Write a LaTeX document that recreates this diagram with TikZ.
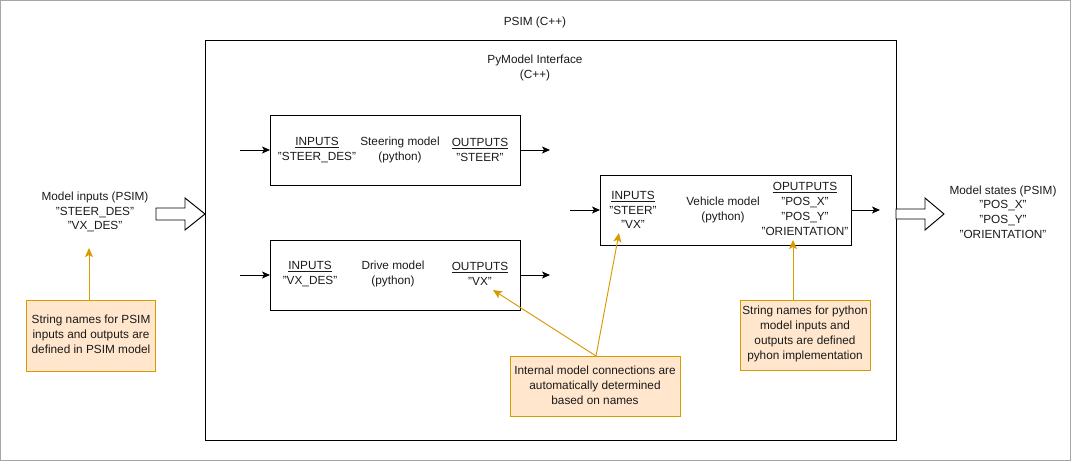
\documentclass[tikz,border=0pt]{standalone}
\usepackage{fontspec}
\setmainfont{Liberation Sans}
\usetikzlibrary{arrows.meta}
\definecolor{notefill}{HTML}{FFE6CC}
\definecolor{notedraw}{HTML}{D79B00}
\definecolor{txt}{HTML}{1A1A1A}
\newcommand{\qt}[1]{\symbol{34}#1\symbol{34}}
\begin{document}
\begin{tikzpicture}[x=1pt,y=-1pt,
  every node/.style={font=\fontsize{11.8}{14.8}\selectfont, text=txt, inner sep=0pt},
  box/.style={draw=black, line width=0.95pt, anchor=north west},
  lbl/.style={align=center},
  note/.style={draw=notedraw, fill=notefill, line width=0.95pt, anchor=north west, align=center},
  sig/.style={draw=black, line width=0.95pt, -{Stealth[length=8pt,width=7pt,inset=2pt]}},
  notearrow/.style={draw=notedraw, line width=0.95pt, -{Stealth[length=9pt,width=8pt,inset=2pt]}},
  blockarrow/.style={draw=black, fill=white, line width=0.95pt}]
\useasboundingbox (0,0) rectangle (1071,461);
\draw[gray!70, line width=0.8pt] (0.5,0.5) rectangle (1070.5,460.5);

\node (psim) at (535,22) {PSIM (C++)};
\node[box, minimum width=691pt, minimum height=400pt] (iface) at (205,40) {};
\node[lbl] (ifacelbl) at (535,68) {PyModel Interface\\(C++)};

% Steering model
\node[box, minimum width=250pt, minimum height=70pt] (steer) at (270,115) {};
\node[lbl] (steerin) at (317,150) {\underline{INPUTS}\\\qt{STEER\_DES}};
\node[lbl] (steername) at (400,150) {Steering model\\(python)};
\node[lbl] (steerout) at (480,150) {\underline{OUTPUTS}\\\qt{STEER}};
\coordinate (steerinS) at (240,150);
\coordinate (steeroutE) at (550,150);
\draw[sig] (steerinS) -- (steerinS -| steer.west);
\draw[sig] (steerinS -| steer.east) -- (steeroutE);

% Drive model
\node[box, minimum width=250pt, minimum height=70pt] (drive) at (270,240) {};
\node[lbl] (drivein) at (310,274) {\underline{INPUTS}\\\qt{VX\_DES}};
\node[lbl] (drivename) at (393,274) {Drive model\\(python)};
\node[lbl] (driveout) at (480,274) {\underline{OUTPUTS}\\\qt{VX}};
\coordinate (driveinS) at (240,275);
\coordinate (driveoutE) at (550,275);
\draw[sig] (driveinS) -- (driveinS -| drive.west);
\draw[sig] (driveinS -| drive.east) -- (driveoutE);

% Vehicle model
\node[box, minimum width=251pt, minimum height=70pt] (veh) at (600,175) {};
\node[lbl] (vehin) at (633,210) {\underline{INPUTS}\\\qt{STEER}\\\qt{VX}};
\node[lbl] (vehname) at (723,210) {Vehicle model\\(python)};
\node[lbl] (vehout) at (805,209) {\underline{OPUTPUTS}\\\qt{POS\_X}\\\qt{POS\_Y}\\\qt{ORIENTATION}};
\coordinate (vehinS) at (570,210);
\coordinate (vehoutE) at (880,210);
\draw[sig] (vehinS) -- (vehinS -| veh.west);
\draw[sig] (vehinS -| veh.east) -- (vehoutE);

% Model inputs / states
\node[lbl] (minputs) at (95,212) {Model inputs (PSIM)\\\qt{STEER\_DES}\\\qt{VX\_DES}};
\node[lbl] (mstates) at (1003,212) {Model states (PSIM)\\\qt{POS\_X}\\\qt{POS\_Y}\\\qt{ORIENTATION}};
\draw[blockarrow] (156,208) -- (185,208) -- (185,198) -- (205,214) -- (185,230) -- (185,220) -- (156,220) -- cycle;
\draw[blockarrow] (896,209) -- (925,209) -- (925,198) -- (944,214) -- (925,230) -- (925,219) -- (896,219) -- cycle;

% Notes
\node[note, minimum width=129pt, minimum height=71pt] (noteL) at (26,300) {};
\node[lbl] (noteLt) at (91,334) {String names for PSIM\\inputs and outputs are\\defined in PSIM model};
\node[note, minimum width=170pt, minimum height=60pt] (noteM) at (510,356) {};
\node[lbl] (noteMt) at (595,385) {Internal model connections are\\automatically determined\\based on names};
\node[note, minimum width=130pt, minimum height=70pt] (noteR) at (740,300) {};
\node[lbl] (noteRt) at (805,334) {String names for python\\model inputs and\\outputs are defined\\pyhon implementation};

\coordinate (tipL) at (89,248);
\coordinate (tipMV) at (619,233);
\coordinate (tipMD) at (493,290);
\coordinate (tipR) at (793,240);
\coordinate (srcM) at (596,356);
\draw[notearrow] (noteL.north -| tipL) -- (tipL);
\draw[notearrow] (srcM) -- (tipMV);
\draw[notearrow] (srcM) -- (tipMD);
\draw[notearrow] (noteR.north -| tipR) -- (tipR);
\end{tikzpicture}
\end{document}
